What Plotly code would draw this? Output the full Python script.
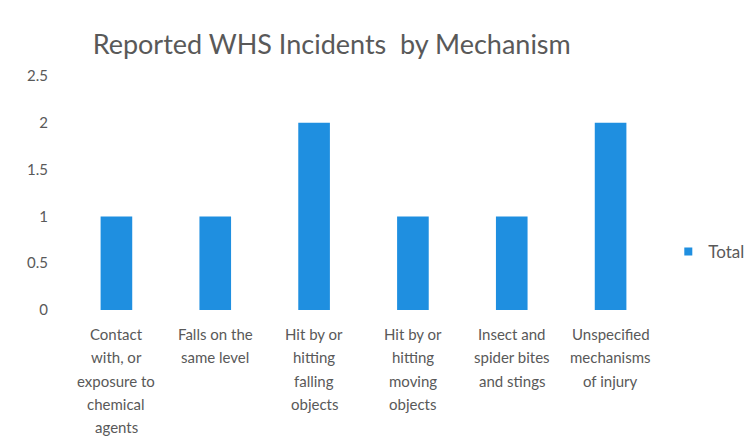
import plotly.graph_objects as go

categories = [
    "Contact<br>with, or<br>exposure to<br>chemical<br>agents",
    "Falls on the<br>same level",
    "Hit by or<br>hitting<br>falling<br>objects",
    "Hit by or<br>hitting<br>moving<br>objects",
    "Insect and<br>spider bites<br>and stings",
    "Unspecified<br>mechanisms<br>of injury",
]
totals = [1, 1, 2, 1, 1, 2]
y_ticks = [0, 0.5, 1, 1.5, 2, 2.5]
y_tick_labels = ["0", "0.5", "1", "1.5", "2", "2.5"]

FONT = "Lato, Carlito, 'Open Sans', sans-serif"
GREY = "#595959"
BLUE = "#1F8FE0"

positions = list(range(len(categories)))

fig = go.Figure()
fig.add_trace(
    go.Bar(
        x=positions,
        y=totals,
        name="Total",
        legendgroup="total",
        showlegend=False,
        marker=dict(color=BLUE, line=dict(width=0)),
        width=0.32,
    )
)
# legend entry with a small square swatch
fig.add_trace(
    go.Scatter(
        x=[None],
        y=[None],
        mode="markers",
        name="Total",
        legendgroup="total",
        marker=dict(symbol="square", size=8, color=BLUE),
    )
)

# category labels, one line at a time for wider line spacing
annotations = []
for i, label in enumerate(categories):
    for j, line in enumerate(label.split("<br>")):
        annotations.append(
            dict(
                x=positions[i],
                y=0,
                xref="x",
                yref="y",
                text=line,
                showarrow=False,
                xanchor="center",
                yanchor="middle",
                yshift=-(24 + 23.3 * j),
                font=dict(size=15, color=GREY, family=FONT),
            )
        )

fig.update_layout(
    width=747,
    height=436,
    margin=dict(l=67, r=87, t=76, b=126, autoexpand=False),
    paper_bgcolor="white",
    plot_bgcolor="white",
    font=dict(family=FONT, color=GREY, size=15),
    title=dict(
        text="Reported WHS Incidents\u00a0 by Mechanism",
        x=0.124,
        xanchor="left",
        y=0.897,
        yanchor="middle",
        font=dict(size=27, color=GREY, family=FONT),
    ),
    annotations=annotations,
    showlegend=True,
    legend=dict(
        x=1.014,
        y=0.248,
        xanchor="left",
        yanchor="middle",
        itemwidth=30,
        font=dict(size=17, color=GREY),
        bgcolor="rgba(0,0,0,0)",
    ),
    xaxis=dict(
        range=[-0.5, len(categories) - 0.5],
        showticklabels=False,
        showgrid=False,
        zeroline=False,
        showline=False,
        ticks="",
    ),
    yaxis=dict(
        range=[0, 2.5],
        tickmode="array",
        tickvals=y_ticks,
        ticktext=y_tick_labels,
        showgrid=False,
        zeroline=False,
        showline=False,
        ticks="",
        ticklabelstandoff=18,
        tickfont=dict(size=15, color=GREY),
    ),
)

fig.write_html("out.html")
